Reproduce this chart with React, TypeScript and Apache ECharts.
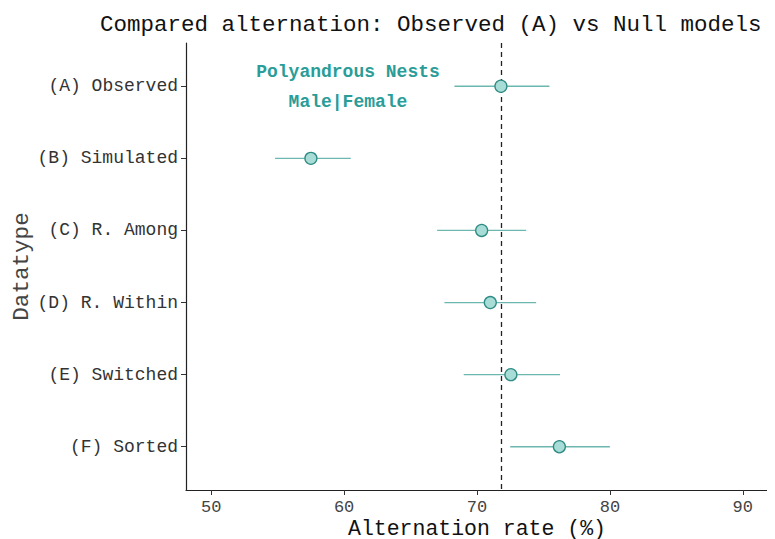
import React, { useEffect, useRef } from "react";
import * as echarts from "echarts";

const categories = ["(A) Observed", "(B) Simulated", "(C) R. Among", "(D) R. Within", "(E) Switched", "(F) Sorted"];
const means = [71.8, 57.5, 70.35, 71.0, 72.55, 76.2];
const lows = [68.3, 54.8, 67.0, 67.55, 69.0, 72.5];
const highs = [75.45, 60.5, 73.7, 74.45, 76.25, 80.0];
const xTicks = [50, 60, 70, 80, 90];
const refLine = 71.8;
const titleText = "Compared alternation: Observed (A) vs Null models";
const noteLines = ["Polyandrous Nests", "Male|Female"];

const FONT = "'Courier New', 'Liberation Mono', 'DejaVu Sans Mono', monospace";

export default function App() {
  const ref = useRef<HTMLDivElement>(null);
  useEffect(() => {
    if (!ref.current) return;
    const chart = echarts.init(ref.current, null, { renderer: "svg" });
    const pos = categories.map((_, i) => i + 1);
    const errData = categories.map((_, i) => [lows[i], highs[i], pos[i]]);
    const ptData = categories.map((_, i) => [means[i], pos[i]]);
    chart.setOption({
      animation: false,
      backgroundColor: "#ffffff",
      title: {
        text: titleText,
        left: 87,
        top: 0,
        textStyle: { fontFamily: FONT, fontSize: 22.5, fontWeight: "normal", color: "#111" },
      },
      grid: { left: 178, right: 7, top: 35, bottom: 49, containLabel: false, outerBoundsMode: "none" },
      xAxis: {
        type: "value",
        min: 48.1,
        max: 91.9,
        name: "Alternation rate (%)",
        nameLocation: "middle",
        nameGap: 29,
        nameMoveOverlap: false,
        nameTextStyle: { fontFamily: FONT, fontSize: 21.5, lineHeight: 20, color: "#111" },
        axisLine: { show: true, lineStyle: { color: "#222", width: 1.2 } },
        axisTick: { show: true, length: 5, customValues: xTicks, lineStyle: { color: "#333" } },
        axisLabel: { customValues: xTicks, fontFamily: FONT, fontSize: 17, lineHeight: 16, color: "#444", margin: 9 },
        splitLine: { show: false },
      },
      yAxis: {
        type: "value",
        min: 0.4,
        max: 6.6,
        inverse: true,
        name: "Datatype",
        nameLocation: "middle",
        nameGap: 153,
        nameMoveOverlap: false,
        nameTextStyle: { fontFamily: FONT, fontSize: 22.6, color: "#444" },
        axisLine: { show: true, lineStyle: { color: "#222", width: 1.2 } },
        axisTick: { show: true, length: 5, customValues: pos, lineStyle: { color: "#333" } },
        axisLabel: {
          customValues: pos,
          formatter: (v: number) => categories[Math.round(v) - 1] ?? "",
          fontFamily: FONT,
          fontSize: 18,
          color: "#333",
          margin: 8,
        },
        splitLine: { show: false },
      },
      series: [
        {
          type: "custom",
          data: errData,
          encode: { x: [0, 1], y: 2 },
          renderItem: (params: any, api: any) => {
            const a = api.coord([api.value(0), api.value(2)]);
            const b = api.coord([api.value(1), api.value(2)]);
            return {
              type: "line",
              shape: { x1: a[0], y1: a[1], x2: b[0], y2: b[1] },
              style: { stroke: "#6cb8b0", lineWidth: 1.3 },
            };
          },
          z: 2,
        },
        {
          type: "scatter",
          data: ptData,
          symbol: "circle",
          symbolSize: 12,
          itemStyle: { color: "#a8dcd6", borderColor: "#2e8b84", borderWidth: 1.3, opacity: 1 },
          z: 4,
          markLine: {
            silent: true,
            symbol: "none",
            label: { show: false },
            lineStyle: { type: [5, 4], color: "#222", width: 1.3 },
            data: [{ xAxis: refLine }],
            z: 3,
          },
        },
      ],
      graphic: noteLines.map((t, i) => ({
        type: "text",
        x: 340,
        y: 64 + i * 30,
        style: {
          text: t,
          fontFamily: FONT,
          fontSize: 18,
          fontWeight: "bold",
          fill: "#2a9d98",
          textAlign: "center",
          textVerticalAlign: "middle",
        },
      })),
    });
    return () => chart.dispose();
  }, []);
  return <div ref={ref} style={{ width: 767, height: 531 }} />;
}
